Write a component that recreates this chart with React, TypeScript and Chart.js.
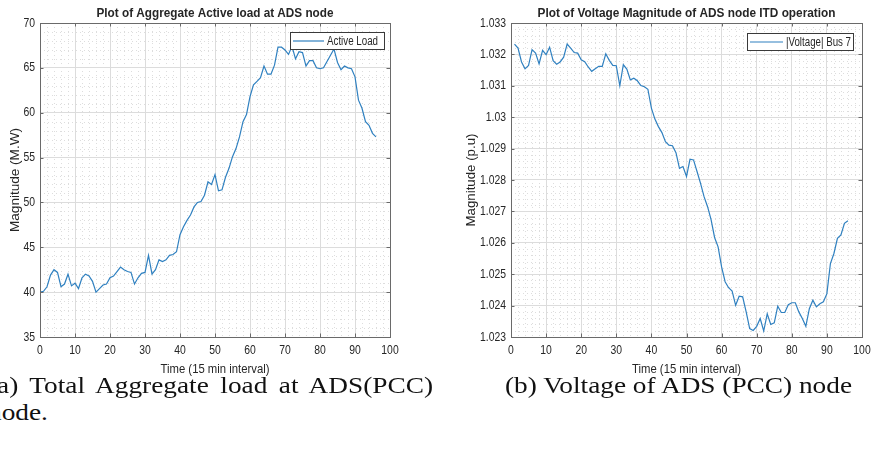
import React, { useEffect, useLayoutEffect, useRef } from 'react';
import { Chart, registerables } from 'chart.js';

Chart.register(...registerables);

// ---------------- data ----------------
const xTickValues = [0, 10, 20, 30, 40, 50, 60, 70, 80, 90, 100];
const xTickLabels = ['0', '10', '20', '30', '40', '50', '60', '70', '80', '90', '100'];

// (a) Aggregate active load, time index 0..96
const activeLoadStart = 0;
const activeLoad = [
  40.0, 40.1, 40.6, 41.9, 42.5, 42.2, 40.6, 40.9, 42.0, 40.7,
  41.0, 40.4, 41.6, 42.0, 41.8, 41.2, 40.0, 40.4, 40.8, 40.9,
  41.6, 41.8, 42.3, 42.8, 42.5, 42.3, 42.2, 40.9, 41.6, 42.1,
  42.2, 44.1, 42.0, 42.5, 43.6, 43.4, 43.6, 44.1, 44.2, 44.5,
  46.4, 47.3, 48.0, 48.6, 49.5, 50.0, 50.1, 50.8, 52.3, 52.0,
  53.1, 51.3, 51.4, 52.8, 53.8, 55.1, 56.0, 57.3, 59.0, 59.8,
  61.8, 63.1, 63.5, 63.9, 65.2, 64.3, 64.3, 65.3, 67.3, 67.3,
  67.0, 66.5, 67.4, 66.0, 66.8, 66.7, 65.2, 65.8, 65.8, 65.0,
  64.9, 65.0, 65.7, 66.4, 67.1, 65.6, 64.8, 65.2, 65.0, 64.9,
  64.0, 61.4, 60.5, 59.0, 58.6, 57.7, 57.3,
];
const loadYTickValues = [35, 40, 45, 50, 55, 60, 65, 70];
const loadYTickLabels = ['35', '40', '45', '50', '55', '60', '65', '70'];

// (b) Voltage magnitude bus 7, time index 1..96
const voltageStart = 1;
const voltage = [
  1.03233, 1.0322, 1.03176, 1.03154, 1.03165, 1.03215, 1.03204, 1.0317, 1.03213, 1.03199,
  1.03223, 1.0318, 1.03169, 1.03176, 1.03191, 1.03233, 1.0322, 1.03206, 1.03204, 1.03183,
  1.03177, 1.0316, 1.03146, 1.03154, 1.03162, 1.03162, 1.03202, 1.03181, 1.03165, 1.03164,
  1.031, 1.03167, 1.03153, 1.03119, 1.03124, 1.03116, 1.03101, 1.03097, 1.03089, 1.03029,
  1.02994, 1.0297, 1.02951, 1.02922, 1.02911, 1.02909, 1.02887, 1.02837, 1.02843, 1.02811,
  1.02866, 1.02864, 1.02827, 1.02789, 1.02747, 1.02715, 1.02674, 1.02617, 1.02587, 1.02523,
  1.02476, 1.02457, 1.02446, 1.02401, 1.0243, 1.02428, 1.0238, 1.02327, 1.02321, 1.02334,
  1.02359, 1.02319, 1.02374, 1.0234, 1.02345, 1.02398, 1.02378, 1.02378, 1.02403, 1.02409,
  1.02409, 1.0238, 1.02359, 1.02334, 1.0239, 1.02417, 1.02396, 1.02406, 1.02412, 1.02438,
  1.02534, 1.02566, 1.02614, 1.02625, 1.02662, 1.0267,
];
const voltYTickValues = [1.023, 1.024, 1.025, 1.026, 1.027, 1.028, 1.029, 1.03, 1.031, 1.032, 1.033];
const voltYTickLabels = ['1.023', '1.024', '1.025', '1.026', '1.027', '1.028', '1.029', '1.03', '1.031', '1.032', '1.033'];

// ---------------- styling ----------------
const SANS = '"Liberation Sans", Arial, Helvetica, sans-serif';
const TEXT = '#262626';
const MAJOR_GRID = '#dcdcdc';
const MINOR_GRID = '#dddddd';
const BOX = '#6a6a6a';
const LINE = '#2f80c0';

type Panel = {
  values: number[];
  start: number;
  label: string;
  title: string;
  titleW: number;
  yTitle: string;
  yTitleLen: number;
  yTitleX: number;
  yMin: number;
  yMax: number;
  yStep: number;
  yTickValues: number[];
  yTickLabels: string[];
  canvasW: number;
  canvasH: number;
  plot: { left: number; right: number; top: number; bottom: number };
  legend: { x: number; y: number; w: number; h: number; lineW: number; textW: number };
};

const LEFT_PANEL: Panel = {
  values: activeLoad,
  start: activeLoadStart,
  label: 'Active Load',
  title: 'Plot of Aggregate Active load at ADS node',
  titleW: 237,
  yTitle: 'Magnitude (M.W)',
  yTitleLen: 104,
  yTitleX: 18.5,
  yMin: 35,
  yMax: 70,
  yStep: 5,
  yTickValues: loadYTickValues,
  yTickLabels: loadYTickLabels,
  canvasW: 440,
  canvasH: 380,
  plot: { left: 40, right: 390, top: 23, bottom: 337 },
  legend: { x: 290, y: 32, w: 94, h: 17, lineW: 31, textW: 51 },
};

const RIGHT_PANEL: Panel = {
  values: voltage,
  start: voltageStart,
  label: '|Voltage| Bus 7',
  title: 'Plot of Voltage Magnitude of ADS node ITD operation',
  titleW: 298,
  yTitle: 'Magnitude (p.u)',
  yTitleLen: 93,
  yTitleX: 35,
  yMin: 1.023,
  yMax: 1.033,
  yStep: 0.001,
  yTickValues: voltYTickValues,
  yTickLabels: voltYTickLabels,
  canvasW: 438,
  canvasH: 380,
  plot: { left: 71, right: 422, top: 23, bottom: 337 },
  legend: { x: 307, y: 33, w: 106, h: 17, lineW: 33, textW: 65 },
};

function drawText(
  ctx: CanvasRenderingContext2D,
  text: string,
  x: number,
  y: number,
  font: string,
  align: CanvasTextAlign,
  baseline: CanvasTextBaseline,
  sx: number,
  targetW?: number
) {
  ctx.save();
  ctx.font = font;
  const w = ctx.measureText(text).width;
  const k = targetW ? targetW / w : sx;
  ctx.translate(x, y);
  ctx.scale(k, 1);
  ctx.textAlign = align;
  ctx.textBaseline = baseline;
  ctx.fillStyle = TEXT;
  ctx.fillText(text, 0, 0);
  ctx.restore();
}

function makeDecor(p: Panel) {
  return {
    id: 'decor',
    beforeDatasetsDraw(chart: any) {
      const { ctx, chartArea: a, scales } = chart;
      const xs = scales.x;
      const ys = scales.y;
      ctx.save();
      ctx.strokeStyle = MINOR_GRID;
      ctx.lineWidth = 1;
      ctx.setLineDash([1, 3]);
      // minor x: 5 subdivisions per major step
      const xMinor = 10 / 5;
      for (let i = 0; i <= 50; i++) {
        if (i % 5 === 0) continue;
        const px = Math.round(xs.getPixelForValue(i * xMinor)) + 0.5;
        ctx.beginPath();
        ctx.moveTo(px, a.top);
        ctx.lineTo(px, a.bottom);
        ctx.stroke();
      }
      const nY = Math.round((p.yMax - p.yMin) / p.yStep) * 5;
      for (let i = 0; i <= nY; i++) {
        if (i % 5 === 0) continue;
        const v = p.yMin + (i * p.yStep) / 5;
        const py = Math.round(ys.getPixelForValue(v)) + 0.5;
        ctx.beginPath();
        ctx.moveTo(a.left, py);
        ctx.lineTo(a.right, py);
        ctx.stroke();
      }
      ctx.restore();
    },
    afterDatasetsDraw(chart: any) {
      const { ctx, chartArea: a, scales } = chart;
      const xs = scales.x;
      const ys = scales.y;
      ctx.save();
      // box
      ctx.strokeStyle = BOX;
      ctx.lineWidth = 1;
      ctx.strokeRect(Math.round(a.left) + 0.5, Math.round(a.top) + 0.5, Math.round(a.right - a.left), Math.round(a.bottom - a.top));
      // inward tick marks
      const tl = 3.5;
      ctx.beginPath();
      xTickValues.forEach((v) => {
        const px = Math.round(xs.getPixelForValue(v)) + 0.5;
        ctx.moveTo(px, a.bottom);
        ctx.lineTo(px, a.bottom - tl);
        ctx.moveTo(px, a.top);
        ctx.lineTo(px, a.top + tl);
      });
      p.yTickValues.forEach((v) => {
        const py = Math.round(ys.getPixelForValue(v)) + 0.5;
        ctx.moveTo(a.left, py);
        ctx.lineTo(a.left + tl, py);
        ctx.moveTo(a.right, py);
        ctx.lineTo(a.right - tl, py);
      });
      ctx.stroke();
      ctx.restore();

      const tickFont = `13px ${SANS}`;
      xTickValues.forEach((v, i) => {
        drawText(ctx, xTickLabels[i], xs.getPixelForValue(v), a.bottom + 13, tickFont, 'center', 'middle', 0.8);
      });
      p.yTickValues.forEach((v, i) => {
        drawText(ctx, p.yTickLabels[i], a.left - 5, ys.getPixelForValue(v), tickFont, 'right', 'middle', 0.8);
      });

      const cx = (a.left + a.right) / 2;
      const cy = (a.top + a.bottom) / 2;
      // title
      drawText(ctx, p.title, cx, 17, `bold 13px ${SANS}`, 'center', 'alphabetic', 1, p.titleW);
      // x title
      drawText(ctx, 'Time (15 min interval)', cx, a.bottom + 36, `13.5px ${SANS}`, 'center', 'alphabetic', 1, 109);
      // y title rotated
      ctx.save();
      ctx.font = `13.5px ${SANS}`;
      const w = ctx.measureText(p.yTitle).width;
      ctx.translate(p.yTitleX, cy);
      ctx.rotate(-Math.PI / 2);
      ctx.scale(p.yTitleLen / w, 1);
      ctx.textAlign = 'center';
      ctx.textBaseline = 'alphabetic';
      ctx.fillStyle = TEXT;
      ctx.fillText(p.yTitle, 0, 0);
      ctx.restore();

      // legend
      const L = p.legend;
      ctx.save();
      ctx.fillStyle = '#ffffff';
      ctx.fillRect(L.x, L.y, L.w, L.h);
      ctx.strokeStyle = '#3a3a3a';
      ctx.lineWidth = 1;
      ctx.strokeRect(L.x + 0.5, L.y + 0.5, L.w, L.h);
      const ly = L.y + L.h / 2 + 0.5;
      ctx.strokeStyle = LINE;
      ctx.lineWidth = 1.2;
      ctx.beginPath();
      ctx.moveTo(L.x + 3, ly);
      ctx.lineTo(L.x + 3 + L.lineW, ly);
      ctx.stroke();
      ctx.restore();
      drawText(ctx, p.label, L.x + L.lineW + 6, ly + 0.5, `12.5px ${SANS}`, 'left', 'middle', 1, L.textW);
    },
  };
}

function makeConfig(p: Panel): any {
  return {
    type: 'line',
    data: {
      datasets: [
        {
          label: p.label,
          data: p.values.map((v, i) => ({ x: i + p.start, y: v })),
          borderColor: LINE,
          borderWidth: 1.2,
          pointRadius: 0,
          fill: false,
          tension: 0,
        },
      ],
    },
    options: {
      responsive: false,
      animation: false,
      events: [],
      layout: {
        padding: { left: 0, right: p.canvasW - p.plot.right, top: p.plot.top, bottom: 0 },
      },
      plugins: {
        legend: { display: false },
        tooltip: { enabled: false },
        title: { display: false },
      },
      scales: {
        x: {
          type: 'linear',
          min: 0,
          max: 100,
          ticks: { display: false, stepSize: 10 },
          grid: { color: MAJOR_GRID, lineWidth: 1, drawTicks: false },
          border: { display: false },
          afterFit: (s: any) => {
            s.height = p.canvasH - p.plot.bottom;
          },
        },
        y: {
          type: 'linear',
          min: p.yMin,
          max: p.yMax,
          ticks: { display: false, stepSize: p.yStep },
          grid: { color: MAJOR_GRID, lineWidth: 1, drawTicks: false },
          border: { display: false },
          afterFit: (s: any) => {
            s.width = p.plot.left;
          },
        },
      },
    },
    plugins: [makeDecor(p)],
  };
}

const captionFont: React.CSSProperties = {
  position: 'absolute',
  fontFamily: '"Liberation Serif", "Times New Roman", serif',
  fontSize: '24px',
  lineHeight: '24px',
  color: '#111',
  whiteSpace: 'nowrap',
  transformOrigin: 'left top',
};

export default function App() {
  const leftRef = useRef<HTMLCanvasElement>(null);
  const rightRef = useRef<HTMLCanvasElement>(null);
  const capRight = useRef<HTMLDivElement>(null);
  const capLeft1 = useRef<HTMLDivElement>(null);
  const capLeft2 = useRef<HTMLDivElement>(null);

  useEffect(() => {
    const c1 = new Chart(leftRef.current as HTMLCanvasElement, makeConfig(LEFT_PANEL));
    const c2 = new Chart(rightRef.current as HTMLCanvasElement, makeConfig(RIGHT_PANEL));
    return () => {
      c1.destroy();
      c2.destroy();
    };
  }, []);

  useLayoutEffect(() => {
    const r = capRight.current;
    const l1 = capLeft1.current;
    const l2 = capLeft2.current;
    if (!r || !l1 || !l2) return;
    const w = r.getBoundingClientRect().width;
    const k = 347 / w;
    r.style.transform = `scaleX(${k})`;
    l1.style.width = `${445 / k}px`;
    l1.style.transform = `scaleX(${k})`;
    l2.style.transform = `scaleX(${k})`;
  }, []);

  return (
    <div style={{ position: 'absolute', left: 0, top: 0, width: 878, height: 451, overflow: 'hidden', background: '#fff' }}>
      <canvas
        ref={leftRef}
        width={LEFT_PANEL.canvasW}
        height={LEFT_PANEL.canvasH}
        style={{ position: 'absolute', left: 0, top: 0, width: LEFT_PANEL.canvasW, height: LEFT_PANEL.canvasH }}
      />
      <canvas
        ref={rightRef}
        width={RIGHT_PANEL.canvasW}
        height={RIGHT_PANEL.canvasH}
        style={{ position: 'absolute', left: 440, top: 0, width: RIGHT_PANEL.canvasW, height: RIGHT_PANEL.canvasH }}
      />
      <div
        ref={capLeft1}
        style={{ ...captionFont, left: -12, top: 373, width: 400, textAlign: 'justify', textAlignLast: 'justify' as any, whiteSpace: 'normal' }}
      >
        (a) Total Aggregate load at ADS(PCC)
      </div>
      <div ref={capLeft2} style={{ ...captionFont, left: -12, top: 400 }}>
        node.
      </div>
      <div ref={capRight} style={{ ...captionFont, left: 505, top: 373 }}>
        (b) Voltage of ADS (PCC) node
      </div>
    </div>
  );
}
